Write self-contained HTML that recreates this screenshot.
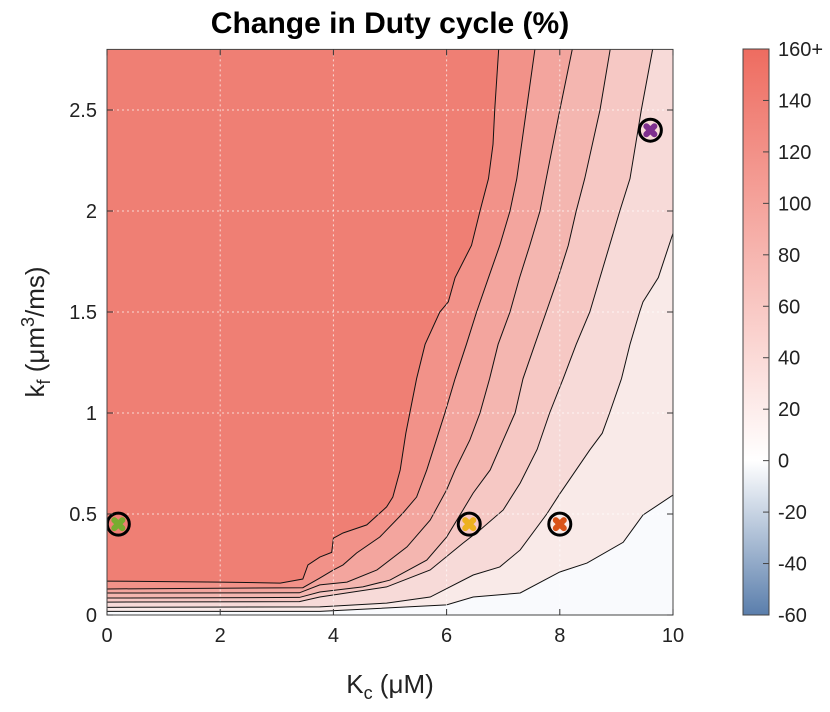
<!DOCTYPE html>
<html><head><meta charset="utf-8"><style>
body{margin:0;background:#fff;}
svg text{font-family:"Liberation Sans",sans-serif;fill:#222;}
</style></head><body>
<svg id="chart" width="830" height="707" xmlns="http://www.w3.org/2000/svg">
<defs>
<linearGradient id="cbgrad" x1="0" y1="1" x2="0" y2="0">
<stop offset="0" stop-color="#5a7eac"/>
<stop offset="0.2727" stop-color="#ffffff"/>
<stop offset="1" stop-color="#ee6c60"/>
</linearGradient>
<clipPath id="plotclip"><rect x="107" y="49" width="566" height="566"/></clipPath>
</defs>
<text x="390" y="33" text-anchor="middle" font-size="30" font-weight="bold" style="fill:#000">Change in Duty cycle (%)</text>
<g id="plot" clip-path="url(#plotclip)"></g>
<g id="axes"></g>
<g id="colorbar"></g>
<text x="390" y="693" text-anchor="middle" font-size="26">K<tspan font-size="18" dy="6">c</tspan><tspan dy="-6"> (μM)</tspan></text>
<text transform="translate(44,332) rotate(-90)" text-anchor="middle" font-size="26">k<tspan font-size="18" dy="6">f</tspan><tspan dy="-6"> (μm</tspan><tspan font-size="18" dy="-10">3</tspan><tspan dy="10">/ms)</tspan></text>
</svg>
<script>
const levels=[20,40,60,80,100,120,140];
const bandColors=["#f9eae8","#f7dad8","#f6c8c4","#f4b6b0","#f3a59e","#f29289","#ef7f74"];
const lowColor="#f9fafd";
const c20=[[10,0.594],[9.47,0.495],[9.12,0.36],[8.48,0.257],[8.0,0.213],[7.3,0.109],[6.47,0.089],[6.0,0.05],[3.76,0.018],[0,0.018]];
const c40=[[10,1.89],[9.74,1.67],[9.47,1.55],[9.41,1.5],[9.24,1.34],[9.09,1.17],[8.88,1.0],[8.75,0.9],[8.53,0.817],[8.0,0.6],[7.77,0.5],[7.3,0.322],[6.94,0.238],[6.47,0.198],[5.71,0.089],[4.94,0.059],[3.76,0.04],[0,0.038]];
const c60=[[9.64,2.8],[9.44,2.5],[9.24,2.16],[9.06,2.0],[8.88,1.83],[8.71,1.67],[8.53,1.5],[8.29,1.34],[8.06,1.17],[7.82,1.0],[7.6,0.82],[7.3,0.653],[7.0,0.52],[6.59,0.421],[6.29,0.356],[5.71,0.223],[4.94,0.139],[3.76,0.089],[3.4,0.066],[0,0.064]];
const c80=[[8.89,2.8],[8.71,2.5],[8.44,2.16],[8.29,2.0],[8.15,1.83],[7.97,1.67],[7.76,1.5],[7.56,1.34],[7.35,1.17],[7.21,1.0],[7.0,0.866],[6.77,0.718],[6.47,0.604],[6.29,0.52],[6.0,0.386],[5.65,0.272],[5.0,0.173],[4.52,0.139],[3.76,0.114],[3.4,0.087],[0,0.084]];
const c100=[[8.22,2.8],[8.0,2.5],[7.76,2.16],[7.65,2.0],[7.47,1.83],[7.29,1.67],[7.12,1.5],[6.91,1.34],[6.76,1.17],[6.59,1.0],[6.41,0.866],[6.15,0.718],[6.0,0.619],[5.71,0.47],[5.3,0.337],[4.77,0.223],[4.24,0.163],[3.76,0.149],[3.4,0.11],[0,0.109]];
const c120=[[7.56,2.8],[7.41,2.5],[7.24,2.16],[7.12,2.0],[6.94,1.83],[6.74,1.67],[6.53,1.5],[6.35,1.34],[6.15,1.17],[5.97,1.0],[5.8,0.85],[5.65,0.718],[5.47,0.584],[5.23,0.505],[4.82,0.386],[4.41,0.307],[4.17,0.248],[4.0,0.223],[3.76,0.183],[3.46,0.135],[0,0.129]];
const c140=[[6.92,2.8],[6.85,2.5],[6.82,2.33],[6.74,2.16],[6.59,2.0],[6.44,1.83],[6.15,1.67],[6.03,1.55],[5.88,1.5],[5.62,1.34],[5.47,1.17],[5.35,1.0],[5.28,0.9],[5.18,0.718],[5.05,0.584],[4.94,0.535],[4.59,0.446],[4.17,0.406],[4.0,0.38],[3.97,0.31],[3.76,0.287],[3.55,0.248],[3.46,0.178],[3.06,0.158],[2,0.163],[0,0.168]];
const markersX=[0.2,6.4,8.0,9.6];
const markersY=[0.45,0.45,0.45,2.4];
const markerColors=["#77ac30","#edb120","#d95319","#7e2f8e"];
const xTicks=[0,2,4,6,8,10];
const yTicks=[0,0.5,1,1.5,2,2.5];
const yTickLabels=["0","0.5","1","1.5","2","2.5"];
const cbTicks=[-60,-40,-20,0,20,40,60,80,100,120,140,160];
const cbTickLabels=["-60","-40","-20","0","20","40","60","80","100","120","140","160+"];

const X0=107,X1=673,Y0=615,YT=49.4;
const sx=v=>X0+(v/10)*(X1-X0);
const sy=v=>Y0-(v/2.8)*(Y0-YT);
const CB0=615,CB1=49;
const cy=v=>CB0-(v+60)/220*(CB0-CB1);
const NS="http://www.w3.org/2000/svg";
function mk(t,a,p){const e=document.createElementNS(NS,t);for(const k in a)e.setAttribute(k,a[k]);p.appendChild(e);return e;}
const plot=document.getElementById('plot'),axes=document.getElementById('axes'),cb=document.getElementById('colorbar');

let bg=mk('rect',{x:X0,y:YT,width:X1-X0,height:Y0-YT,fill:lowColor},plot);


const contours=[c20,c40,c60,c80,c100,c120,c140];
contours.forEach((c,i)=>{
  let pts=c.map(p=>sx(p[0])+','+sy(p[1]));
  const f=c[0];
  let extra=[sx(0)+','+sy(2.8)];
  if(f[1]<2.8) extra.push(sx(10)+','+sy(2.8));
  let poly=mk('polygon',{points:pts.concat(extra).join(' '),fill:bandColors[i]},plot);
  
  
});
contours.forEach((c,i)=>{
  let pl=mk('polyline',{points:c.map(p=>sx(p[0])+','+sy(p[1])).join(' '),fill:'none',stroke:'#111','stroke-width':1},plot);
  
  
});
xTicks.forEach(v=>{ if(v>0&&v<10){let g=mk('line',{x1:sx(v),x2:sx(v),y1:YT,y2:Y0,stroke:'#fff','stroke-opacity':0.7,'stroke-dasharray':'2,3'},plot);
  
  }});
yTicks.forEach(v=>{ if(v>0){let g=mk('line',{x1:X0,x2:X1,y1:sy(v),y2:sy(v),stroke:'#fff','stroke-opacity':0.7,'stroke-dasharray':'2,3'},plot);
  
  }});
markersX.forEach((mx,i)=>{
  const x=sx(mx),y=sy(markersY[i]);
  let g=mk('g',{},plot);
  
  
  mk('circle',{cx:x,cy:y,r:11,fill:'none',stroke:'#000','stroke-width':3},g);
  mk('path',{d:`M${x-4},${y-4}L${x+4},${y+4}M${x+4},${y-4}L${x-4},${y+4}`,stroke:markerColors[i],'stroke-width':6,'stroke-linecap':'round'},g);
});
let frame=mk('rect',{x:X0,y:YT,width:X1-X0,height:Y0-YT,fill:'none',stroke:'#444','stroke-width':1},axes);


xTicks.forEach(v=>{
  mk('line',{x1:sx(v),x2:sx(v),y1:Y0,y2:Y0-6,stroke:'#333'},axes);
  mk('line',{x1:sx(v),x2:sx(v),y1:YT,y2:YT+6,stroke:'#333'},axes);
  let t=mk('text',{x:sx(v),y:Y0+27,'text-anchor':'middle','font-size':20},axes);
  t.textContent=v;
  
  
});
yTicks.forEach((v,i)=>{
  mk('line',{x1:X0,x2:X0+6,y1:sy(v),y2:sy(v),stroke:'#333'},axes);
  mk('line',{x1:X1,x2:X1-6,y1:sy(v),y2:sy(v),stroke:'#333'},axes);
  let t=mk('text',{x:X0-10,y:sy(v)+7,'text-anchor':'end','font-size':20},axes);
  t.textContent=yTickLabels[i];
  
  
});
let bar=mk('rect',{x:743,y:CB1,width:26,height:CB0-CB1,fill:'url(#cbgrad)',stroke:'#444','stroke-width':1},cb);


cbTicks.forEach((v,i)=>{
  mk('line',{x1:763,x2:769,y1:cy(v),y2:cy(v),stroke:'#444'},cb);
  let t=mk('text',{x:778,y:cy(v)+7,'font-size':20},cb);
  t.textContent=cbTickLabels[i];
  
  
});
</script>
</body></html>
